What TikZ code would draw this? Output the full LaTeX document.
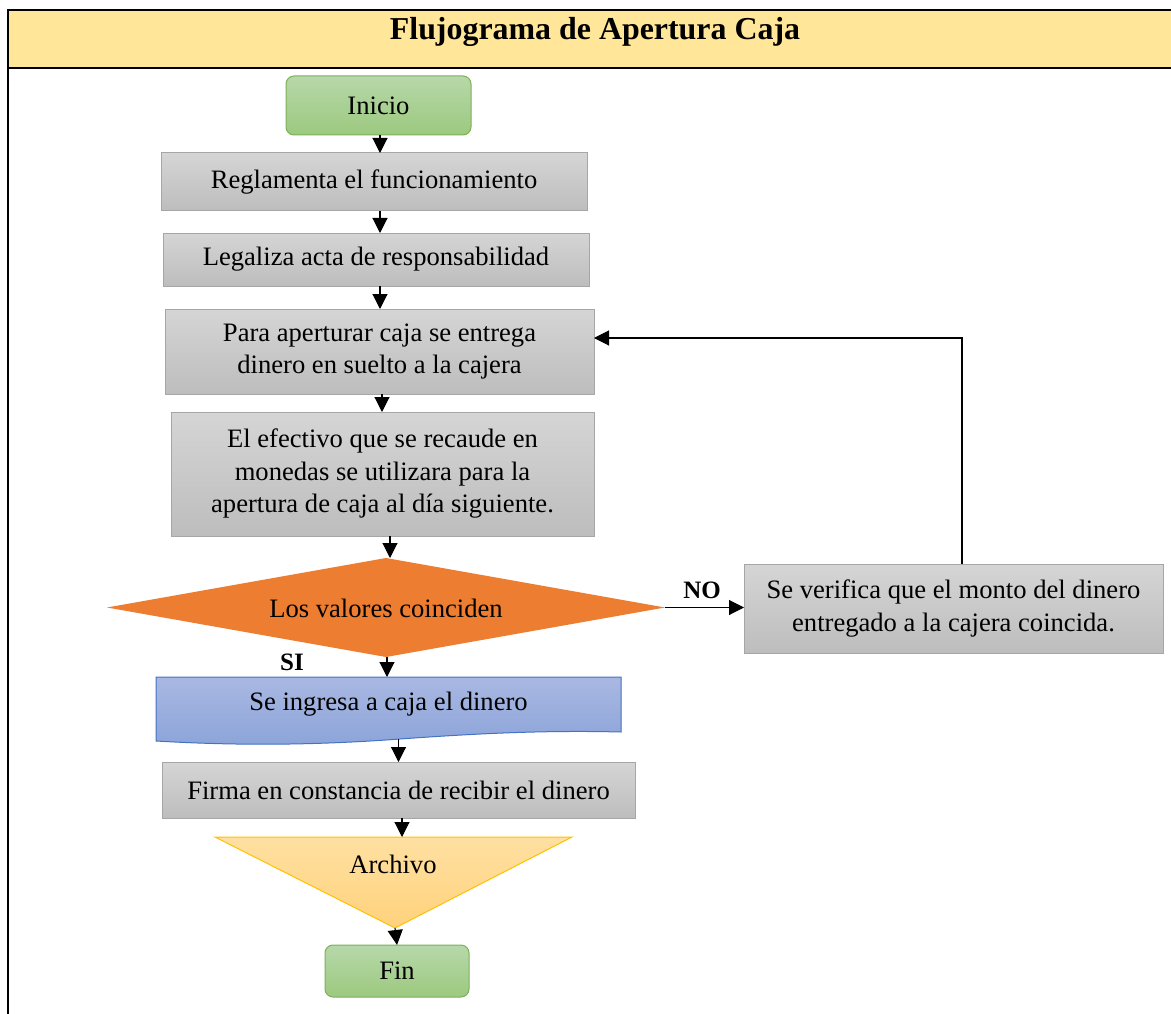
\documentclass[tikz,border=0pt]{standalone}
\usepackage{fontspec}
\setmainfont{Liberation Serif}
\usetikzlibrary{arrows.meta,shapes.geometric}

\definecolor{bandyellow}{HTML}{FFE699}
\definecolor{graytop}{HTML}{D5D5D5}
\definecolor{graybot}{HTML}{BDBDBD}
\definecolor{grayline}{HTML}{A6A6A6}
\definecolor{greentop}{HTML}{B7D8A9}
\definecolor{greenbot}{HTML}{9CC97F}
\definecolor{greenline}{HTML}{7DB05A}
\definecolor{decorange}{HTML}{ED7D31}
\definecolor{bluetop}{HTML}{A9B8E2}
\definecolor{bluebot}{HTML}{8CA4D9}
\definecolor{blueline}{HTML}{4472C4}
\definecolor{archtop}{HTML}{FFE0A2}
\definecolor{archbot}{HTML}{FFD27C}
\definecolor{archline}{HTML}{FFC000}

\begin{document}
\begin{tikzpicture}[x=1pt,y=-1pt,
  every node/.style={inner sep=0pt,outer sep=0pt,align=center,
    font=\fontsize{26.6}{32.5}\selectfont},
  procbox/.style={rectangle,draw=grayline,line width=1pt,
    top color=graytop,bottom color=graybot},
  terminal/.style={rectangle,rounded corners=8pt,draw=greenline,line width=1pt,
    top color=greentop,bottom color=greenbot},
  flow/.style={draw=black,line width=1.1pt,-{Triangle[length=15pt,width=15pt]}},
  branchlabel/.style={font=\fontsize{25}{30}\selectfont\bfseries}
]
\useasboundingbox (0,0) rectangle (1171,1014);

% heading band and frame
\fill[bandyellow] (8,10) rectangle (1171,68);
\draw[line width=2.4pt] (1171,10) -- (8,10) -- (8,1014);
\draw[line width=2.4pt] (8,68) -- (1171,68);
\node[font=\fontsize{31.9}{36}\selectfont\bfseries] (title) at (595,32) {Flujograma de Apertura Caja};

% main column
\node[terminal,minimum width=185pt,minimum height=59pt] (inicio) at (378.5,105.5) {Inicio};
\node[procbox,minimum width=426pt,minimum height=58pt] (regl) at (374,182) {Reglamenta el funcionamiento};
\node[procbox,minimum width=426pt,minimum height=53pt] (legal) at (376,259.5) {Legaliza acta de responsabilidad};
\node[procbox,minimum width=429pt,minimum height=85pt] (para) at (379.5,351.5)
  {Para aperturar caja se entrega\\dinero en suelto a la cajera};
\node[procbox,minimum width=423pt,minimum height=124pt] (efec) at (382.5,474)
  {El efectivo que se recaude en\\monedas se utilizara para la\\apertura de caja al día siguiente.};

% decision
\node[diamond,fill=decorange,minimum width=558pt,minimum height=99pt] (dec) at (386,607.5) {};
\node (dectext) at (386,608) {Los valores coinciden};

\node[procbox,minimum width=419pt,minimum height=89pt] (verif) at (953.5,608.5)
  {Se verifica que el monto del dinero\\entregado a la cajera coincida.};

% document shape
\shade[top color=bluetop,bottom color=bluebot,draw=blueline,line width=1pt]
  (156,677) -- (621,677) -- (621,732)
  .. controls (540,730) and (470,734) .. (400,739)
  .. controls (320,745) and (240,746) .. (156,741) -- cycle;
\node[minimum width=465pt,minimum height=64pt] (ingresa) at (388.5,709) {};
\node (ingresatext) at (388.5,704) {Se ingresa a caja el dinero};

\node[procbox,minimum width=473pt,minimum height=56pt] (firma) at (398.5,790) {Firma en constancia de recibir el dinero};

% archive triangle
\shade[top color=archtop,bottom color=archbot,draw=archline,line width=1pt]
  (215,837) -- (572,837) -- (395,928) -- cycle;
\coordinate (archin) at (402,837);
\coordinate (archout) at (395,928);
\node (archivo) at (393,864) {Archivo};

\node[terminal,minimum width=144pt,minimum height=52pt] (fin) at (397,971) {Fin};

% connectors
\draw[flow] ([xshift=1.5pt]inicio.south) -- ([xshift=1.5pt]inicio.south |- regl.north);
\draw[flow] ([xshift=6pt]regl.south) -- ([xshift=6pt]regl.south |- legal.north);
\draw[flow] ([xshift=4pt]legal.south) -- ([xshift=4pt]legal.south |- para.north);
\draw[flow] ([xshift=2.5pt]para.south) -- ([xshift=2.5pt]para.south |- efec.north);
\draw[flow] ([xshift=7.5pt]efec.south) -- ([xshift=7.5pt]efec.south |- dec.north);
\draw[flow] ([xshift=1pt]dec.south) -- ([xshift=1pt]dec.south |- ingresa.north);
\draw[flow] (firma.north |- 0,739) -- (firma.north);
\draw[flow] ([xshift=3.5pt]firma.south) -- (archin);
\draw[flow] (archout) -- (fin.north);
\draw[flow] (dec.east) -- (dec.east -| verif.west);
\draw[flow] ([xshift=8.5pt]verif.north) |- ([yshift=13.5pt]para.east);

% branch labels
\node[branchlabel] (nolabel) at (702,590) {NO};
\node[branchlabel] (silabel) at (292,662) {SI};
\end{tikzpicture}
\end{document}
